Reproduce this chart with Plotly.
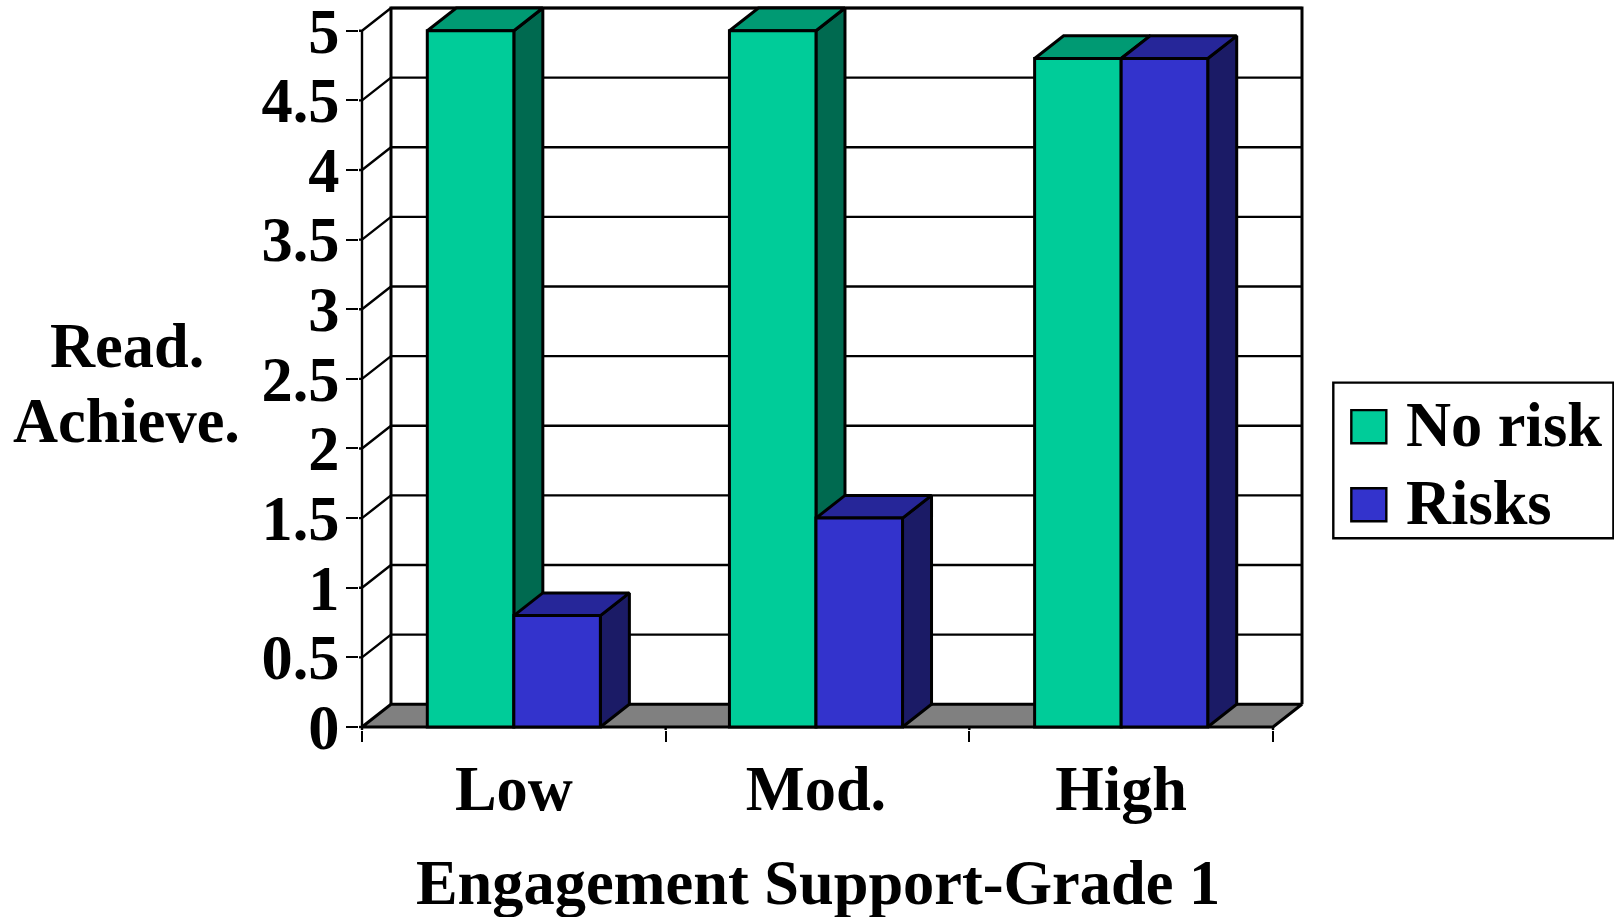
import plotly.graph_objects as go

categories = ['Low', 'Mod.', 'High']
no_risk = [5.0, 5.0, 4.8]
risks = [0.8, 1.5, 4.8]
y_ticks = [0, 0.5, 1, 1.5, 2, 2.5, 3, 3.5, 4, 4.5, 5]
y_labels = ['0', '0.5', '1', '1.5', '2', '2.5', '3', '3.5', '4', '4.5', '5']
x_ticks = [0, 1, 2, 3]

W, H = 1614, 917
PAD = 3  # px of slack round the plot area, scatter lines get clipped at its edge
M_L, M_R, M_T, M_B = 362 - PAD, 312.3 - PAD, 8 - PAD, 190.3 - PAD
FONT = 'Liberation Serif'
FONT_SIZE = 62.4
INK = '#000000'
DX, DY = 0.0955, 0.163  # depth of the fake 3D box, in axis units
BAR_W = 0.285
PAD_X, PAD_Y = PAD / 303.6, PAD / 139.2
X_RANGE = [-PAD_X, 3 + DX + PAD_X]
Y_RANGE = [-PAD_Y, 5 + DY + PAD_Y]


# paper coordinates are relative to the plot area, so convert from page pixels
def px(x):
    return (x - M_L) / (W - M_L - M_R)


def py(y):
    return 1 - (y - M_T) / (H - M_T - M_B)


def lines(x, y, width, color=INK):
    return go.Scatter(x=x, y=y, mode='lines', line=dict(color=color, width=width),
                      hoverinfo='skip', cliponaxis=False)


def face(x, y, color):
    return go.Scatter(x=x, y=y, mode='lines', fill='toself', fillcolor=color,
                      line=dict(color=INK, width=3), hoverinfo='skip', cliponaxis=False)


def box_faces(left, right, v, top_color, side_color):
    side = face([right, right + DX, right + DX, right, right],
                [0, DY, v + DY, v, 0], side_color)
    top = face([left, right, right + DX, left + DX, left],
               [v, v, v + DY, v + DY, v], top_color)
    return [side, top]


fig = go.Figure()

# floor, then the walls
fig.add_trace(face([0, 3, 3 + DX, DX, 0], [0, 0, DY, DY, 0], '#808080'))
grid_x, grid_y, slant_x, slant_y = [], [], [], []
for v in y_ticks[1:]:
    grid_x += [DX, 3 + DX, None]
    grid_y += [v + DY, v + DY, None]
    slant_x += [-PAD_X, 0, DX, None]  # the stub joins the axis tick to the slant
    slant_y += [v, v, v + DY, None]
for k in x_ticks:
    slant_x += [k, k, None]
    slant_y += [-PAD_Y, 0, None]
slant_x += [-PAD_X, 0]
slant_y += [0, 0]
fig.add_trace(lines(grid_x, grid_y, 2.4))
fig.add_trace(lines(slant_x, slant_y, 2.4))
fig.add_trace(lines([0, 0], [0, 5], 2.4))
fig.add_trace(lines([DX, DX, 3 + DX, 3 + DX], [DY, 5 + DY, 5 + DY, DY], 3))

# sides and tops, green first so the blue ones cover them
centers = [0.5, 1.495, 2.5]
for c, v in zip(centers, no_risk):
    for t in box_faces(c - BAR_W, c, v, '#009A73', '#006A50'):
        fig.add_trace(t)
for c, v in zip(centers, risks):
    for t in box_faces(c, c + BAR_W, v, '#262699', '#1B1B66'):
        fig.add_trace(t)

# front faces sit on an overlay axis pair, which draws above the scatters
fig.add_trace(go.Bar(x=centers, y=no_risk, name='No risk', xaxis='x2', yaxis='y2',
                     width=BAR_W, offset=-BAR_W,
                     marker=dict(color='#00CC99', line=dict(color=INK, width=3))))
fig.add_trace(go.Bar(x=centers, y=risks, name='Risks', xaxis='x2', yaxis='y2',
                     width=BAR_W, offset=0,
                     marker=dict(color='#3333CC', line=dict(color=INK, width=3))))

fig.update_layout(
    width=W,
    height=H,
    margin=dict(l=M_L, r=M_R, t=M_T, b=M_B, autoexpand=False),
    paper_bgcolor='#ffffff',
    plot_bgcolor='#ffffff',
    font=dict(family=FONT, size=FONT_SIZE, color=INK),
    showlegend=False,
    barmode='overlay',
    xaxis=dict(
        range=X_RANGE,
        automargin=False,
        showgrid=False,
        zeroline=False,
        tickmode='array',
        tickvals=centers,
        ticktext=[f'<b>{c}</b>' for c in categories],
        ticks='',
        ticklabelstandoff=17,
        ticklabeloverflow='allow',
        minor=dict(tickmode='array', tickvals=x_ticks, ticks='outside', ticklen=11,
                   tickwidth=2.4, tickcolor=INK, showgrid=False),
    ),
    yaxis=dict(
        range=Y_RANGE,
        automargin=False,
        showgrid=False,
        zeroline=False,
        tickmode='array',
        tickvals=y_ticks,
        ticktext=[f'<b>{t}</b>' for t in y_labels],
        ticks='outside',
        ticklen=12,
        tickwidth=2.4,
        tickcolor=INK,
        ticklabelstandoff=-6,
        ticklabeloverflow='allow',
    ),
    xaxis2=dict(range=X_RANGE, overlaying='x', visible=False),
    yaxis2=dict(range=Y_RANGE, overlaying='y', visible=False),
)

for text, y in [('Read.', 345), ('Achieve.', 420)]:
    fig.add_annotation(text=f'<b>{text}</b>', x=px(127), y=py(y), xref='paper', yref='paper',
                       xanchor='center', yanchor='middle', showarrow=False)
fig.add_annotation(text='<b>Engagement Support-Grade 1</b>', x=1.5, y=py(883), xref='x', yref='paper',
                   xanchor='center', yanchor='middle', showarrow=False)

# legend is drawn by hand: plotly's own swatches cannot be this large
fig.add_shape(type='rect', xref='paper', yref='paper', x0=px(1333), x1=px(1613), y0=py(382.5), y1=py(538),
              line=dict(color=INK, width=2.4), fillcolor='#ffffff')
for name, color, y0, y1 in [('No risk', '#00CC99', 410, 443), ('Risks', '#3333CC', 488, 521)]:
    fig.add_shape(type='rect', xref='paper', yref='paper', x0=px(1351), x1=px(1386), y0=py(y0), y1=py(y1),
                  line=dict(color=INK, width=2.4), fillcolor=color)
    fig.add_annotation(text=f'<b>{name}</b>', x=px(1404), y=py((y0 + y1) / 2 - 2), xref='paper', yref='paper',
                       xanchor='left', yanchor='middle', showarrow=False)

fig.write_html("out.html", config=dict(displayModeBar=False),
               post_script="document.body.style.margin='0';document.body.style.overflow='hidden';")
